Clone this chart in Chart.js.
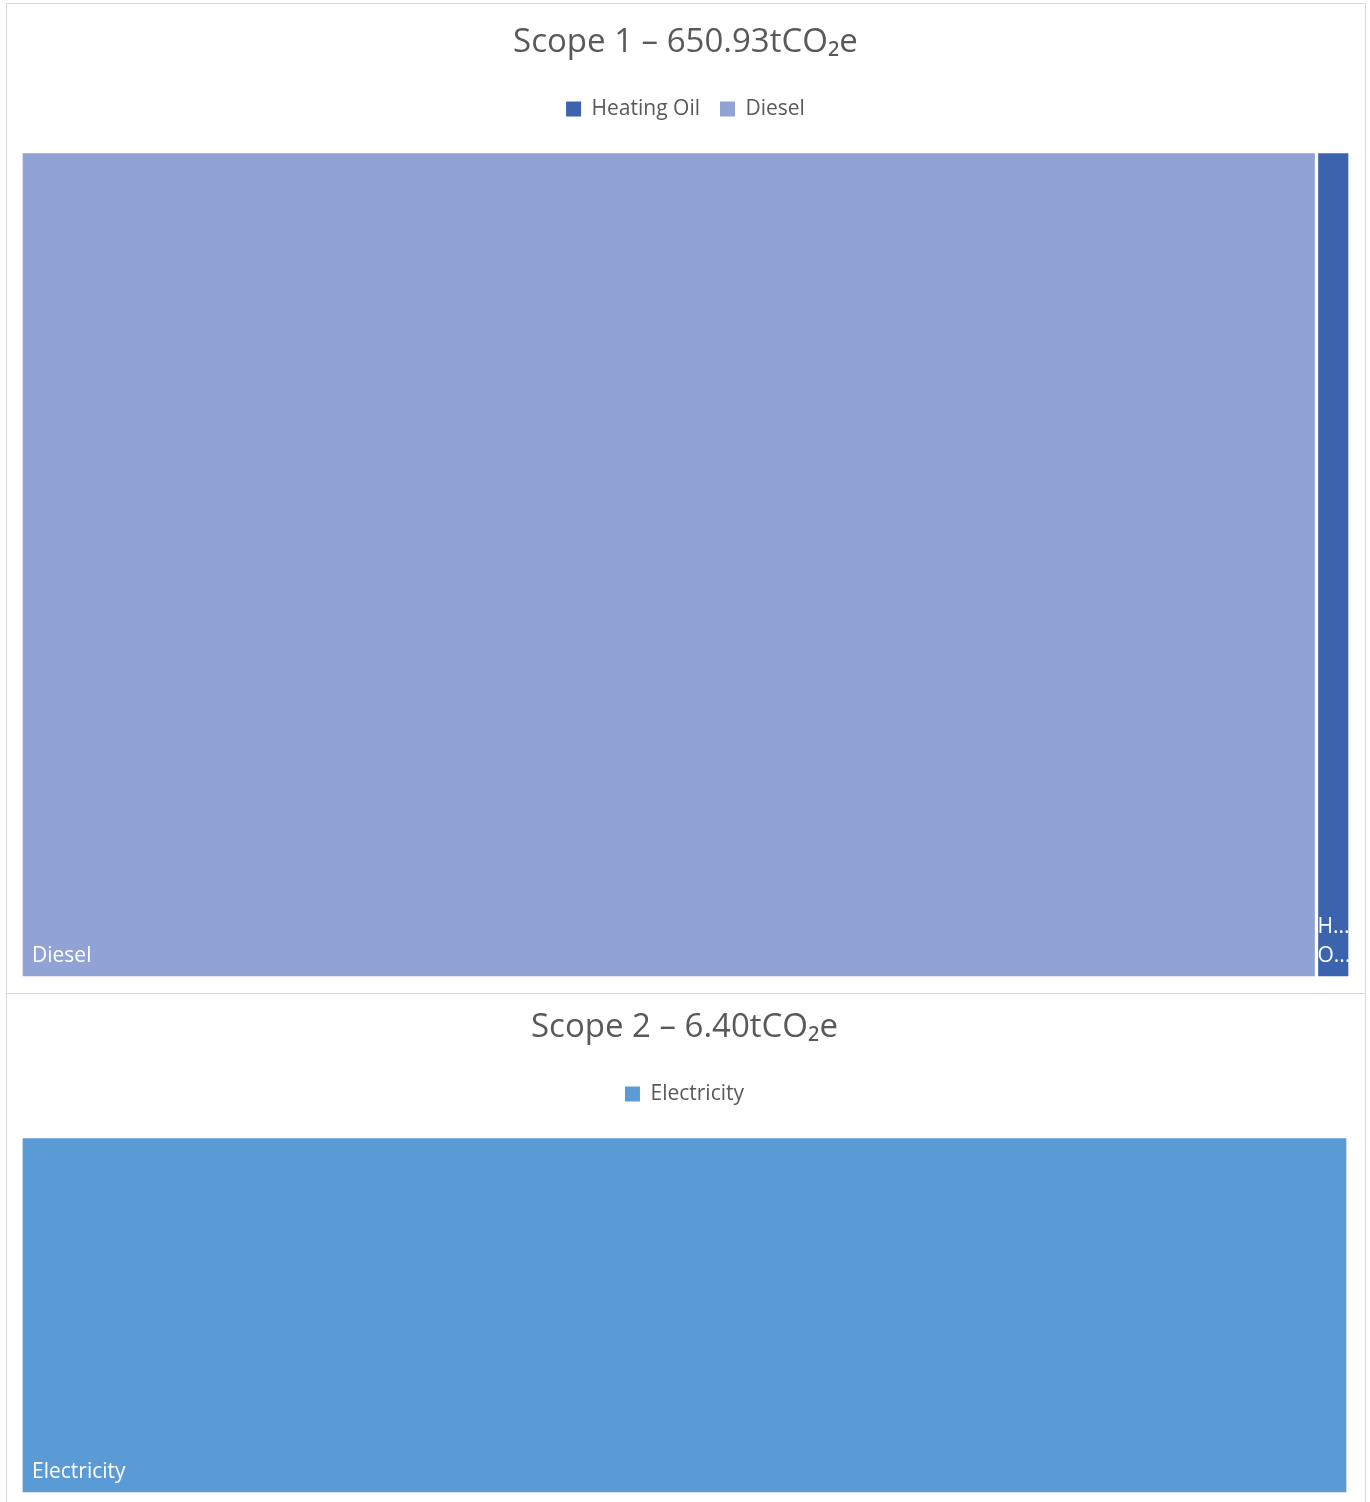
<!DOCTYPE html>
<html lang="en">
<head>
<meta charset="UTF-8">
<title>Scope 1 and Scope 2 emissions</title>
<script src="https://cdn.jsdelivr.net/npm/chart.js"></script>
<style>
    body {
        margin: 0;
        background: #fff;
        font-family: "Open Sans", sans-serif;
    }
    .box {
        position: absolute;
        left: 6px;
        width: 1360px;
        border: 1px solid #d9d9d9;
        box-sizing: border-box;
        background: #fff;
    }
    #box1 { top: 3px; height: 991px; }
    #box2 { top: 993px; height: 520px; }
</style>
</head>
<body>

<div class="box" id="box1"><canvas id="scope1Chart"></canvas></div>
<div class="box" id="box2"><canvas id="scope2Chart"></canvas></div>

<script>
    // tCO2e per source
    const scope1Labels = ['Heating Oil', 'Diesel'];
    const scope1Values = [16.40, 634.53];
    const scope1Title = 'Scope 1 \u2013 650.93tCO\u2082e';

    const scope2Labels = ['Electricity'];
    const scope2Values = [6.40];
    const scope2Title = 'Scope 2 \u2013 6.40tCO\u2082e';

    const textGrey = '#595959';
    const fontFamily = '"Open Sans", sans-serif';

    // treemap-style labels, bottom-left of each block
    const blockLabels = {
        id: 'blockLabels',
        afterDatasetsDraw(chart) {
            const ctx = chart.ctx;
            ctx.save();
            ctx.font = '21px ' + fontFamily;
            ctx.fillStyle = '#fff';
            ctx.textBaseline = 'alphabetic';
            chart.data.datasets.forEach((ds, i) => {
                const el = chart.getDatasetMeta(i).data[0];
                if (!el) return;
                const p = el.getProps(['x', 'y', 'base', 'height'], true);
                const left = Math.min(p.x, p.base);
                const right = Math.max(p.x, p.base);
                const bottom = p.y + p.height / 2;
                const w = right - left;
                const pad = w > 60 ? 11 : 1;
                const avail = w - 2;
                let lines = [ds.label];
                if (ctx.measureText(ds.label).width > w - pad * 2) {
                    // too narrow: one word per line, every word cut short
                    lines = ds.label.split(' ').map(word => {
                        let s = word.slice(0, -1);
                        while (s.length > 1 && ctx.measureText(s + '...').width > avail) s = s.slice(0, -1);
                        return s + '...';
                    });
                }
                const lineH = 29;
                lines.forEach((line, k) => {
                    const yy = bottom - 16 - (lines.length - 1 - k) * lineH;
                    ctx.fillText(line, left + pad, yy);
                });
            });
            ctx.restore();
        }
    };

    // extra room under the legend
    const legendGap = {
        id: 'legendGap',
        beforeInit(chart, args, opts) {
            const fit = chart.legend.fit;
            chart.legend.fit = function () {
                fit.bind(chart.legend)();
                this.height += opts.gap || 0;
            };
        }
    };

    function makeChart(id, labels, values, colors, titleText, opts) {
        const datasets = labels.map((label, i) => ({
            label: label,
            data: [values[i]],
            backgroundColor: colors[i],
            borderColor: '#fff',
            borderWidth: 2,
            borderSkipped: false,
            barPercentage: 1,
            categoryPercentage: 1
        }));
        const total = values.reduce((a, b) => a + b, 0);

        return new Chart(document.getElementById(id), {
            type: 'bar',
            data: { labels: [''], datasets: datasets },
            options: {
                indexAxis: 'y',
                responsive: true,
                maintainAspectRatio: false,
                animation: false,
                layout: { padding: opts.padding },
                scales: {
                    x: { stacked: true, display: false, min: 0, max: total, reverse: true },
                    y: { stacked: true, display: false }
                },
                plugins: {
                    title: {
                        display: true,
                        text: titleText,
                        color: textGrey,
                        font: { family: fontFamily, size: 33, weight: 'normal' },
                        padding: { top: 6, bottom: 16 }
                    },
                    legend: {
                        display: true,
                        labels: {
                            color: textGrey,
                            font: { family: fontFamily, size: 21 },
                            boxWidth: 15,
                            boxHeight: 15,
                            padding: 20,
                            generateLabels(chart) {
                                return chart.data.datasets.map((ds, i) => ({
                                    text: ds.label,
                                    fillStyle: ds.backgroundColor,
                                    strokeStyle: ds.backgroundColor,
                                    lineWidth: 0,
                                    fontColor: textGrey,
                                    datasetIndex: i
                                }));
                            }
                        }
                    },
                    legendGap: { gap: opts.gap },
                    tooltip: { enabled: false }
                }
            },
            plugins: [blockLabels, legendGap]
        });
    }

    makeChart('scope1Chart', scope1Labels, scope1Values, ['#3c63ad', '#91a3d4'], scope1Title, {
        padding: { left: 14, right: 15, top: 13, bottom: 15 },
        gap: 22
    });

    makeChart('scope2Chart', scope2Labels, scope2Values, ['#5b9bd5'], scope2Title, {
        padding: { left: 14, right: 17, top: 8, bottom: 18 },
        gap: 22
    });
</script>

</body>
</html>
